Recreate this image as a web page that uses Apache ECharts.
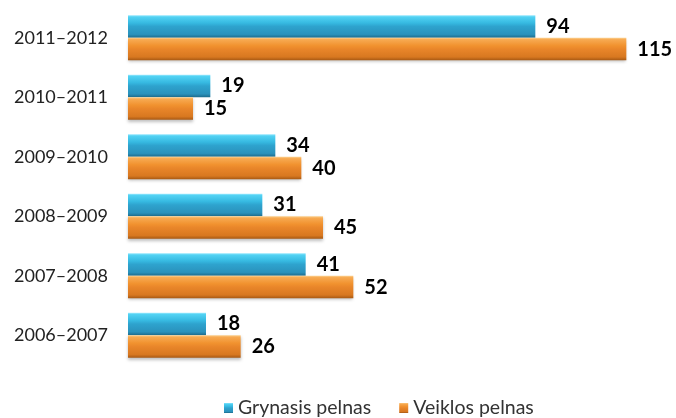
<!DOCTYPE html>
<html>
<head>
<meta charset="utf-8">
<script src="https://cdn.jsdelivr.net/npm/echarts@6/dist/echarts.min.js"></script>
<style>
  html, body { margin: 0; padding: 0; background: #fff; }
  #chart { width: 676px; height: 418px; }
</style>
</head>
<body>
<div id="chart"></div>
<script>
  // periods, bottom to top
  var periods = ['2006–2007', '2007–2008', '2008–2009', '2009–2010', '2010–2011', '2011–2012'];
  var grynasis = [18, 41, 31, 34, 19, 94];
  var veiklos = [26, 52, 45, 40, 15, 115];
  var seriesNames = ['Grynasis pelnas', 'Veiklos pelnas'];

  var font = 'Lato, "Open Sans", sans-serif';

  function barFill(stops) {
    return new echarts.graphic.LinearGradient(0, 0, 0, 1, stops.map(function (s) {
      return { offset: s[0], color: s[1] };
    }));
  }
  var blueFill = barFill([[0, '#a0eaff'], [0.08, '#52d2f3'], [0.35, '#36b9e1'], [0.5, '#2ea3ce'], [0.85, '#2a92bc'], [1, '#1c6b8c']]);
  var orangeFill = barFill([[0, '#fdd290'], [0.08, '#f7aa52'], [0.35, '#f1922f'], [0.5, '#e9862a'], [0.85, '#d87820'], [1, '#a65813']]);

  var chart = echarts.init(document.getElementById('chart'));
  chart.setOption({
    backgroundColor: '#fff',
    animation: false,
    grid: { left: 128, right: 28, top: 8, bottom: 53 },
    legend: {
      data: seriesNames,
      top: 398,
      left: 224,
      padding: 0,
      itemWidth: 9,
      itemHeight: 10,
      itemGap: 28,
      icon: 'rect',
      textStyle: { fontFamily: font, fontSize: 19.5, color: '#333' }
    },
    xAxis: {
      type: 'value',
      min: 0,
      max: 120,
      show: false
    },
    yAxis: {
      type: 'category',
      data: periods,
      axisLine: { show: false },
      axisTick: { show: false },
      axisLabel: { margin: 20, fontFamily: font, fontSize: 18, color: '#222' }
    },
    series: [
      {
        name: seriesNames[0],
        type: 'bar',
        data: grynasis,
        barGap: '0%',
        barCategoryGap: '24%',
        itemStyle: { color: blueFill },
        label: {
          show: true, position: 'right', distance: 11,
          fontFamily: font, fontSize: 20, fontWeight: 'bold', color: '#000'
        }
      },
      {
        name: seriesNames[1],
        type: 'bar',
        data: veiklos,
        barGap: '0%',
        barCategoryGap: '24%',
        itemStyle: {
          color: orangeFill,
          shadowColor: 'rgba(0,0,0,0.25)', shadowBlur: 3, shadowOffsetY: 2
        },
        label: {
          show: true, position: 'right', distance: 11,
          fontFamily: font, fontSize: 20, fontWeight: 'bold', color: '#000'
        }
      }
    ]
  });
</script>
</body>
</html>
